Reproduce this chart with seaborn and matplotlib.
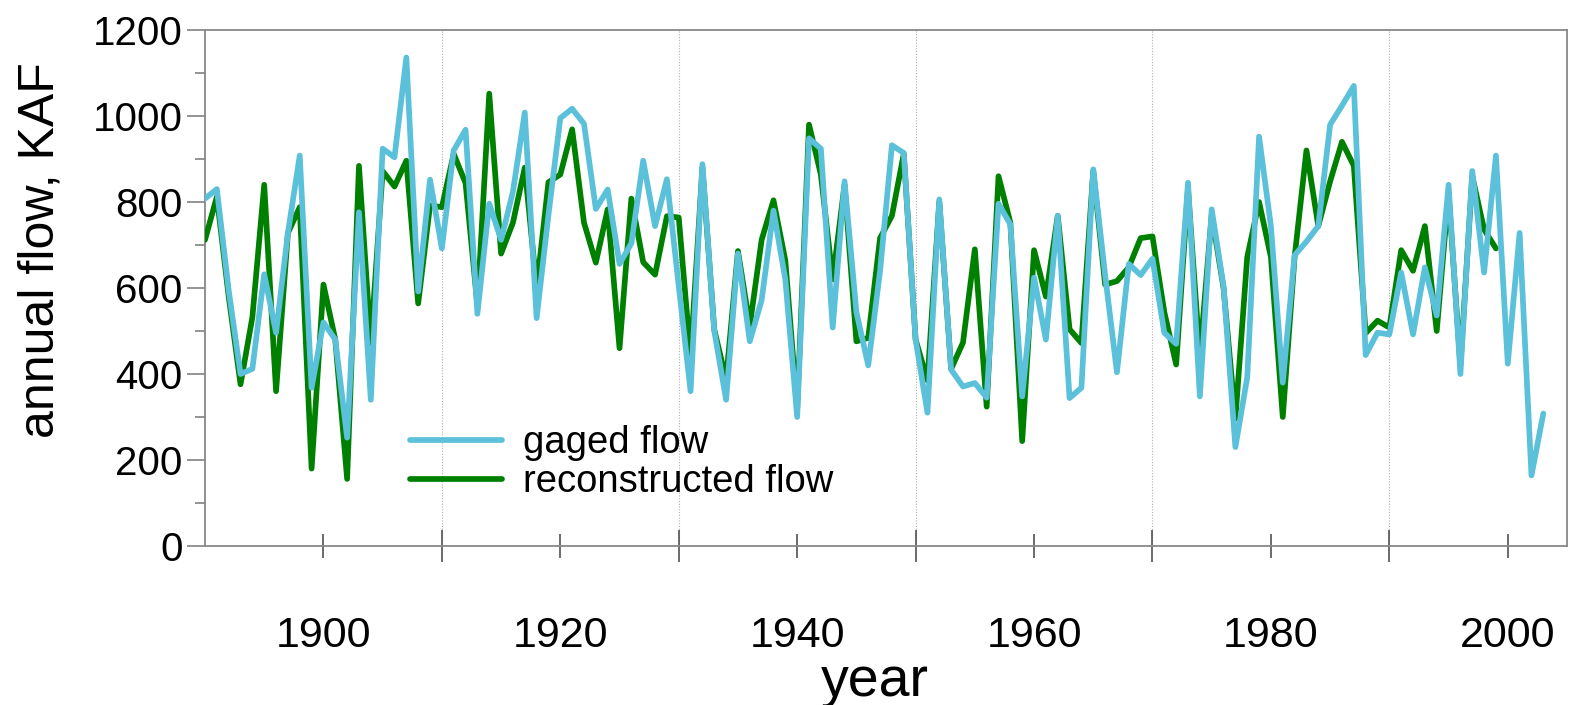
import matplotlib
matplotlib.use("Agg")
import matplotlib.pyplot as plt
from matplotlib.ticker import MultipleLocator, FixedLocator
import seaborn as sns
import pandas as pd
import numpy as np

# ---- data ----
gaged_years = list(range(1890, 2004))
gaged_flow = [
    808, 830, 595, 400, 412, 632, 496, 728, 908, 368,
    520, 480, 252, 776, 340, 924, 904, 1136, 592, 852,
    692, 920, 968, 540, 796, 712, 824, 1008, 530, 770,
    995, 1017, 982, 784, 829, 656, 704, 896, 744, 853,
    605, 360, 888, 500, 340, 680, 476, 572, 780, 620,
    300, 948, 924, 508, 848, 544, 420, 640, 932, 914,
    480, 310, 806, 410, 371, 379, 345, 796, 748, 348,
    624, 480, 768, 344, 368, 876, 630, 404, 656, 630,
    668, 496, 470, 845, 348, 783, 604, 230, 392, 952,
    744, 380, 676, 708, 744, 980, 1024, 1070, 444, 496,
    492, 636, 492, 648, 536, 840, 400, 872, 636, 908,
    424, 728, 164, 308,
]
recon_years = list(range(1890, 2000))
recon_flow = [
    712, 812, 580, 376, 532, 840, 360, 728, 788, 180,
    608, 480, 156, 884, 472, 872, 836, 896, 564, 792,
    788, 912, 844, 560, 1052, 680, 752, 880, 600, 846,
    864, 969, 752, 659, 783, 460, 808, 660, 631, 767,
    764, 441, 880, 503, 387, 686, 512, 712, 804, 664,
    320, 980, 864, 620, 840, 476, 484, 716, 768, 912,
    480, 385, 800, 412, 473, 690, 324, 860, 752, 244,
    688, 580, 768, 504, 472, 872, 608, 616, 648, 716,
    720, 544, 422, 830, 440, 770, 600, 296, 672, 800,
    672, 300, 672, 920, 744, 848, 940, 884, 495, 524,
    508, 688, 640, 744, 500, 820, 420, 860, 736, 692,
]
series_labels = ["gaged flow", "reconstructed flow"]
x_major_ticks = [1900, 1920, 1940, 1960, 1980, 2000]
x_minor_ticks = [1910, 1930, 1950, 1970, 1990]
y_ticks = [0, 200, 400, 600, 800, 1000, 1200]

gaged_df = pd.DataFrame({"year": gaged_years, "flow": gaged_flow})
recon_df = pd.DataFrame({"year": recon_years, "flow": recon_flow})

sns.set_style("white")
plt.rcParams["font.family"] = ["Liberation Sans", "DejaVu Sans"]
plt.rcParams["text.color"] = "black"
plt.rcParams["axes.labelcolor"] = "black"
plt.rcParams["xtick.labelcolor"] = "black"
plt.rcParams["ytick.labelcolor"] = "black"

fig = plt.figure(figsize=(15.7, 7.05), dpi=100)
ax = fig.add_axes([205 / 1570, 1 - 546 / 705, 1362 / 1570, 516 / 705])

blue = "#5bc0da"
green = "#008000"
lw = 4.1

sns.lineplot(data=recon_df, x="year", y="flow", ax=ax, color=green,
             linewidth=lw, label=series_labels[1], zorder=3)
sns.lineplot(data=gaged_df, x="year", y="flow", ax=ax, color=blue,
             linewidth=lw, label=series_labels[0], zorder=4)

ax.set_xlim(1890, 2005)
ax.set_ylim(0, 1200)

ax.xaxis.set_major_locator(FixedLocator(x_major_ticks))
ax.xaxis.set_minor_locator(FixedLocator(x_minor_ticks))
ax.yaxis.set_major_locator(FixedLocator(y_ticks))
ax.yaxis.set_minor_locator(MultipleLocator(100))

ax.grid(False)
ax.grid(True, which="minor", axis="x", color="#b0b0b0", linestyle=(0, (1, 1.5)),
        linewidth=0.8)

spine_color = "#888888"
for s in ax.spines.values():
    s.set_color(spine_color)
    s.set_linewidth(1.3)

ax.tick_params(axis="x", which="major", direction="inout", length=17, width=1.1,
               color="#444444", labelsize=31, pad=42, labelcolor="black")
ax.tick_params(axis="x", which="minor", direction="inout", length=23, width=1.1,
               color="#444444")
ax.tick_params(axis="y", which="major", direction="out", length=13, width=1.1,
               color="#777777", labelsize=29, pad=3, left=True, labelcolor="black")
ax.tick_params(axis="y", which="minor", direction="out", length=7, width=1.1,
               color="#777777", left=True)
ax.tick_params(axis="x", which="both", bottom=True)

ax.set_xlabel("year", fontsize=40, color="black")
ax.set_ylabel("annual flow, KAF", fontsize=36, color="black")
ax.xaxis.set_label_coords(0.492, -0.213)
ax.yaxis.set_label_coords(-0.104, 0.574)

handles, labels = ax.get_legend_handles_labels()
order = [labels.index(series_labels[0]), labels.index(series_labels[1])]
leg = ax.legend([handles[i] for i in order], [labels[i] for i in order],
                loc="center left", bbox_to_anchor=(0.1505, 0.162),
                frameon=False, fontsize=27.5, handlelength=2.4,
                handletextpad=0.55, labelspacing=0.08, borderpad=0,
                borderaxespad=0)
for line in leg.get_lines():
    line.set_linewidth(lw)
for t in leg.get_texts():
    t.set_color("black")

fig.savefig("out.png", dpi=100)
